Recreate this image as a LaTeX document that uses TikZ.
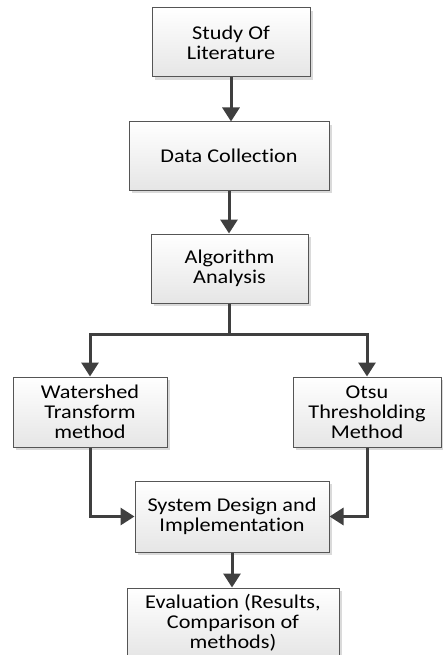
\documentclass[tikz,border=0pt]{standalone}
\usepackage{fontspec}
\setmainfont{Carlito}[FakeStretch=1.14, Ligatures=NoCommon]
\usetikzlibrary{arrows.meta,shadows,calc}

\definecolor{edgegray}{HTML}{555555}
\definecolor{arrowgray}{HTML}{3F3F3F}

\tikzset{
  stagebox/.style={
    draw=edgegray, line width=1pt,
    top color=white, bottom color=black!10,
    drop shadow={shadow xshift=3pt, shadow yshift=-3pt, fill=black!18, opacity=0.8},
    align=center, inner sep=2pt,
    font=\fontsize{19.5}{20}\selectfont, text=black
  },
  flow/.style={
    draw=arrowgray, line width=3pt,
    -{Triangle[width=17pt,length=14pt]}
  },
  plainflow/.style={draw=arrowgray, line width=3pt}
}

\begin{document}
\begin{tikzpicture}[x=1pt,y=-1pt]
  \useasboundingbox (0,0) rectangle (442,655);

  % process stages
  \node[stagebox, minimum width=158pt, minimum height=69pt] (study) at (231,42.5)
    {Study Of\\Literature};
  \node[stagebox, minimum width=200pt, minimum height=68pt] (data) at (229,156)
    {Data Collection};
  \node[stagebox, minimum width=157pt, minimum height=69pt] (algo) at (229.5,268.5)
    {Algorithm\\Analysis};
  \node[stagebox, minimum width=154pt, minimum height=70pt] (water) at (90,412)
    {Watershed\\Transform\\method};
  \node[stagebox, minimum width=148pt, minimum height=70pt] (otsu) at (367,412)
    {Otsu\\Thresholding\\Method};
  \node[stagebox, minimum width=194pt, minimum height=71pt] (sys) at (232,516.5)
    {System Design and\\Implementation};
  \node[stagebox, minimum width=212pt, minimum height=70pt] (eval) at (233,623)
    {Evaluation (Results,\\Comparison of\\methods)};

  % branching point below the analysis stage
  \coordinate (split) at (229.5,334);

  % connectors
  \draw[flow] (study.south) -- (study.south |- data.north);
  \draw[flow] (data.south) -- (data.south |- algo.north);
  \draw[plainflow] (algo.south) -- (split);
  \draw[flow] (split) -| (water.north);
  \draw[flow] (split) -| (otsu.north);
  \draw[flow] (water.south) |- (sys.west);
  \draw[flow] (otsu.south) |- (sys.east);
  \draw[flow] (sys.south) -- (sys.south |- eval.north);
\end{tikzpicture}
\end{document}
